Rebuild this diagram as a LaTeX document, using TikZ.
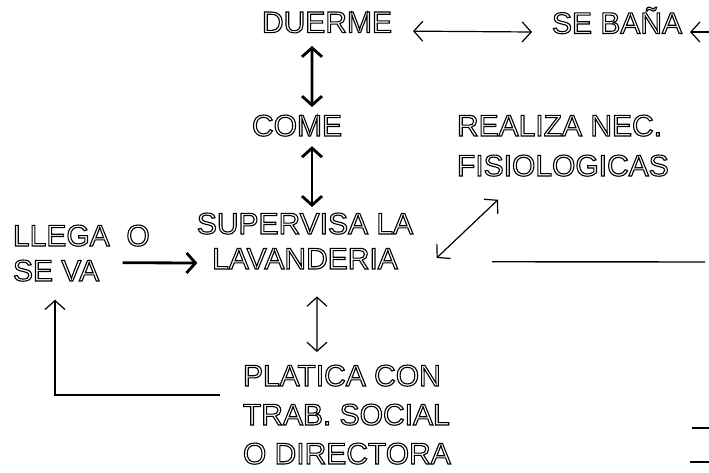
\documentclass[tikz,border=0pt]{standalone}
\usepackage{fontspec}
\setmainfont{Liberation Sans}
\usetikzlibrary{arrows.meta}
\tikzset{
  lbl/.style={font=\fontsize{30}{36}\selectfont, align=left, inner sep=0pt, outer sep=0pt,
    execute at begin node={\special{pdf:literal direct 1 Tr 1.1 w}},
    execute at end node={\special{pdf:literal direct 0 Tr}}},
  thinarr/.style={line width=1.2pt, {Straight Barb[length=9pt,width=20pt]}-{Straight Barb[length=9pt,width=20pt]}},
  thinhead/.style={line width=1.2pt, {Straight Barb[length=9pt,width=20pt]}-},
  thickarr/.style={line width=2.8pt, {Straight Barb[length=9pt,width=20pt]}-{Straight Barb[length=9pt,width=20pt]}},
  thickhead/.style={line width=2.8pt, -{Straight Barb[length=9pt,width=20pt]}},
  plainline/.style={line width=1.4pt},
}
\begin{document}
\begin{tikzpicture}[x=1pt,y=-1pt]
\useasboundingbox (0,0) rectangle (709,472);
% nodes
\node[lbl, anchor=north west] (duerme) at (262,12) {DUERME};
\node[lbl, anchor=base west] (sebana) at (552,33.5) {SE BAÑA};
\node[lbl, anchor=north west] (come) at (252,115) {COME};
\node[lbl, anchor=north, align=center, font=\fontsize{30}{35}\selectfont] (supervisa) at (305,213) {SUPERVISA LA\\LAVANDERIA};
\node[lbl, anchor=north west, font=\fontsize{30}{35}\selectfont] (llega) at (13,225) {LLEGA\ \ O\\SE VA};
\node[lbl, anchor=north west, font=\fontsize{30}{40}\selectfont] (realiza) at (457,115) {REALIZA NEC.\\FISIOLOGICAS};
\node[lbl, anchor=north west, font=\fontsize{30}{39}\selectfont] (platica) at (243,365) {PLATICA CON\\TRAB. SOCIAL\\O DIRECTORA};
% free ends at the picture edge
\coordinate (edgeA) at (709,32);
\coordinate (edgeB) at (705,262);
\coordinate (dashA1) at (692,428);
\coordinate (dashA2) at (709,428);
\coordinate (dashB1) at (690,462);
\coordinate (dashB2) at (709,462);
% connectors
\draw[thinarr] ([shift={(21,-1.5)}]duerme.base east) -- ([shift={(-20,-1.5)}]sebana.base west);
\draw[thinhead] ([shift={(8,-1.5)}]sebana.base east) -- (edgeA);
\draw[thickarr] ([shift={(-15,13)}]duerme.south) -- ([shift={(15,-8)}]come.north);
\draw[thickarr] ([shift={(15,10)}]come.south) -- ([shift={(7,-6)}]supervisa.north);
\draw[thickhead] ([shift={(-27,-18.5)}]llega.south east) -- ([shift={(0.5,22)}]supervisa.west);
\draw[thinarr] ([shift={(12,27.5)}]supervisa.south) -- ([shift={(-30,-13)}]platica.north);
\draw[thinhead] ([shift={(42,18.5)}]llega.south west) |- ([shift={(-23,30)}]platica.north west);
\draw[thinarr] ([shift={(23.5,17)}]supervisa.east) -- ([shift={(41,23.5)}]realiza.south west);
\draw[plainline] ([shift={(35,85.5)}]realiza.south west) -- (edgeB);
\draw[line width=1.3pt] (dashA1) -- (dashA2);
\draw[line width=2.6pt] (dashB1) -- (dashB2);
\end{tikzpicture}
\end{document}
